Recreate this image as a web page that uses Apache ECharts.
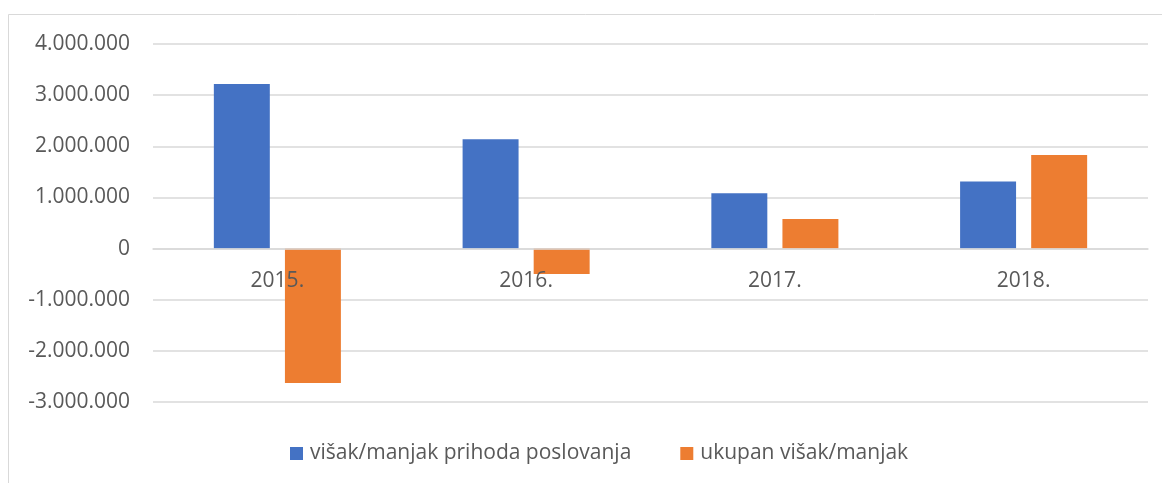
<!DOCTYPE html>
<html>
<head>
<meta charset="utf-8">
<script src="https://cdn.jsdelivr.net/npm/echarts@6/dist/echarts.min.js"></script>
<style>
html,body{margin:0;padding:0;background:#fff;}
#c{width:1162px;height:483px;}
</style>
</head>
<body>
<div id="c"></div>
<script>
var categories = ['2015.', '2016.', '2017.', '2018.'];
var seriesNames = ['višak/manjak prihoda poslovanja', 'ukupan višak/manjak'];
var visakPrihoda = [3220000, 2140000, 1080000, 1310000];
var ukupanVisak = [-2630000, -495000, 580000, 1830000];
var yMin = -3000000, yMax = 4000000, yStep = 1000000;

function fmt(v) {
  var neg = v < 0;
  var s = String(Math.abs(v)).replace(/\B(?=(\d{3})+(?!\d))/g, '.');
  return (neg ? '-' : '') + s;
}

var W = 1162, H = 483;
var gridTop = 44, gridBottom = 81;
var gridH = H - gridTop - gridBottom;
var zeroOffset = -(gridH * (0 - yMin) / (yMax - yMin));

var chart = echarts.init(document.getElementById('c'));
var font = '"Open Sans", sans-serif';
chart.setOption({
  animation: false,
  backgroundColor: '#fff',
  textStyle: { fontFamily: font },
  graphic: [{
    type: 'polyline',
    shape: { points: [[8.5, 500], [8.5, 14.5], [1170, 14.5]] },
    style: { stroke: '#d9d9d9', lineWidth: 1, fill: null },
    silent: true
  }],
  grid: { left: 153, right: 14, top: gridTop, bottom: gridBottom, containLabel: false },
  legend: {
    bottom: 14,
    left: 285,
    itemWidth: 13,
    itemHeight: 13,
    itemGap: 49,
    icon: 'rect',
    textStyle: { fontFamily: font, fontSize: 21, color: '#595959', padding: [0, 0, 0, 2] },
    data: seriesNames
  },
  xAxis: {
    type: 'category',
    data: categories,
    position: 'bottom',
    offset: zeroOffset,
    axisLine: { show: true, onZero: false, lineStyle: { color: '#d9d9d9', width: 1.5 } },
    axisTick: { show: false },
    axisLabel: { fontFamily: font, fontSize: 21, color: '#595959', margin: 22 },
    z: 10
  },
  yAxis: {
    type: 'value',
    min: yMin, max: yMax, interval: yStep,
    axisLine: { show: false },
    axisTick: { show: false },
    splitLine: { lineStyle: { color: '#d9d9d9', width: 1.5 } },
    axisLabel: { fontFamily: font, fontSize: 21, color: '#595959', margin: 23, formatter: fmt }
  },
  series: [{
    name: seriesNames[0],
    type: 'bar',
    data: visakPrihoda,
    itemStyle: { color: '#4472c4' },
    barWidth: '22.5%',
    barGap: '27%'
  }, {
    name: seriesNames[1],
    type: 'bar',
    data: ukupanVisak,
    itemStyle: { color: '#ed7d31' },
    barWidth: '22.5%',
    barGap: '27%'
  }]
});
</script>
</body>
</html>
